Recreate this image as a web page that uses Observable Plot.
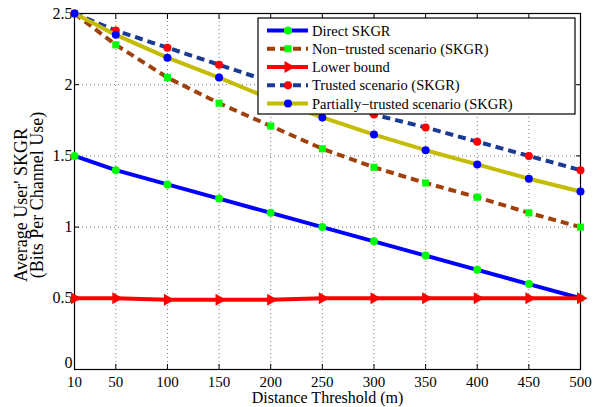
<!DOCTYPE html>
<html><head><meta charset="utf-8">
<script src="https://cdn.jsdelivr.net/npm/d3@7"></script>
<script src="https://cdn.jsdelivr.net/npm/@observablehq/plot@0.6"></script>
<style>body{margin:0;background:#fff}#chart{width:596px;height:407px}</style>
</head><body><div id="chart"></div>
<script>
// ---- data ----
const distances = [10, 50, 100, 150, 200, 250, 300, 350, 400, 450, 500];
const directSKGR = [1.5, 1.4, 1.3, 1.2, 1.1, 1.0, 0.9, 0.8, 0.7, 0.6, 0.5];
const nonTrustedSKGR = [2.5, 2.28, 2.05, 1.87, 1.71, 1.55, 1.42, 1.31, 1.21, 1.1, 1.0];
const lowerBound = [0.5, 0.5, 0.49, 0.49, 0.49, 0.5, 0.5, 0.5, 0.5, 0.5, 0.5];
const trustedSKGR = [2.5, 2.38, 2.26, 2.14, 2.02, 1.9, 1.79, 1.7, 1.6, 1.5, 1.4];
const partiallyTrustedSKGR = [2.5, 2.35, 2.19, 2.05, 1.9, 1.77, 1.65, 1.54, 1.44, 1.34, 1.25];
const xTicks = [10, 50, 100, 150, 200, 250, 300, 350, 400, 450, 500];
const yTicks = [0, 0.5, 1, 1.5, 2, 2.5];
const seriesNames = ["Direct SKGR", "Non\u2212trusted scenario (SKGR)", "Lower bound", "Trusted scenario (SKGR)", "Partially\u2212trusted scenario (SKGR)"];
const xLabel = "Distance Threshold (m)";
const yLabelLines = ["Average User' SKGR", "(Bits Per Channel Use)"];

// ---- styles ----
const FONT = "Liberation Serif";
const seriesValues = [directSKGR, nonTrustedSKGR, lowerBound, trustedSKGR, partiallyTrustedSKGR];
const seriesStyles = [
  {line: "#0000ff", dash: null, symbol: "circle", mfill: "#00ff00", r: 4, rotate: 0},
  {line: "#a0400a", dash: "8,5", symbol: "square", mfill: "#00ff00", r: 4, rotate: 0},
  {line: "#ff0000", dash: null, symbol: "triangle", mfill: "#ff0000", r: 4.5, rotate: 90},
  {line: "#1a3a94", dash: "8,5", symbol: "circle", mfill: "#ff0000", r: 4, rotate: 0},
  {line: "#c4bc00", dash: null, symbol: "circle", mfill: "#0000ff", r: 4, rotate: 0}
];

const marks = [
  Plot.gridX(xTicks.slice(1, -1), {stroke: "#777", strokeOpacity: 1, strokeDasharray: "1,3"}),
  Plot.gridY(yTicks.slice(1, -1), {stroke: "#777", strokeOpacity: 1, strokeDasharray: "1,3"}),
  Plot.axisX(xTicks, {anchor: "bottom", tickSize: -5, tickFormat: () => "", label: null}),
  Plot.axisX(xTicks, {anchor: "top", tickSize: -5, tickFormat: () => "", label: null}),
  Plot.axisY(yTicks, {anchor: "left", tickSize: -5, tickFormat: () => "", label: null}),
  Plot.axisY(yTicks, {anchor: "right", tickSize: -5, tickFormat: () => "", label: null}),
  Plot.axisX(xTicks, {anchor: "bottom", tickSize: 0, tickPadding: 7, fontSize: 15, fill: "#000", fontFamily: FONT, label: null, tickFormat: d => String(d)}),
  Plot.axisY(yTicks.slice(1), {anchor: "left", tickSize: 0, tickPadding: 2, fontSize: 16, fill: "#000", fontFamily: FONT, label: null, tickFormat: d => String(d)}),
  Plot.axisY(yTicks.slice(0, 1), {anchor: "left", tickSize: 0, tickPadding: 2, dy: -7, fontSize: 16, fill: "#000", fontFamily: FONT, label: null, tickFormat: d => String(d)}),
  Plot.frame({stroke: "#000", strokeWidth: 1.2}),
  Plot.text([xLabel], {text: d => d, frameAnchor: "bottom", dy: 28, textAnchor: "middle", lineAnchor: "middle", fontSize: 16, fontFamily: FONT, fill: "#000"}),
  Plot.text([yLabelLines[0]], {text: d => d, frameAnchor: "left", rotate: -90, dx: -53, dy: 13.5, textAnchor: "middle", lineAnchor: "middle", fontSize: 18, fontFamily: FONT, fill: "#000"}),
  Plot.text([yLabelLines[1]], {text: d => d, frameAnchor: "left", rotate: -90, dx: -37, dy: 3.5, textAnchor: "middle", lineAnchor: "middle", fontSize: 18, fontFamily: FONT, fill: "#000"})
];

seriesValues.forEach((vals, k) => {
  const s = seriesStyles[k];
  const rows = distances.map((d, i) => ({x: d, y: vals[i]}));
  marks.push(Plot.line(rows, {x: "x", y: "y", stroke: s.line, strokeWidth: 4, strokeDasharray: s.dash, strokeLinecap: "butt", strokeLinejoin: "round"}));
  marks.push(Plot.dot(rows, {x: "x", y: "y", symbol: s.symbol, fill: s.mfill, stroke: "none", r: s.r, rotate: s.rotate}));
});

const svgNode = Plot.plot({
  width: 596, height: 407,
  marginLeft: 74, marginRight: 16, marginTop: 13, marginBottom: 38,
  style: {background: "#fff", color: "#000"},
  x: {type: "linear", domain: [10, 500]},
  y: {type: "linear", domain: [0, 2.5]},
  marks
});
svgNode.setAttribute("font-family", FONT);
document.getElementById("chart").appendChild(svgNode);

// ---- legend ----
const svg = d3.select(svgNode);
const lg = svg.append("g").attr("font-family", FONT).attr("text-anchor", "start");
lg.append("rect").attr("x", 258).attr("y", 18).attr("width", 317).attr("height", 96)
  .attr("fill", "#fff").attr("stroke", "#000").attr("stroke-width", 1.2);
const symMap = {circle: d3.symbolCircle, square: d3.symbolSquare, triangle: d3.symbolTriangle};
seriesNames.forEach((name, i) => {
  const s = seriesStyles[i];
  const y = 30.5 + i * 18.25;
  lg.append("line").attr("x1", 267).attr("x2", 308).attr("y1", y).attr("y2", y)
    .attr("stroke", s.line).attr("stroke-width", 4).attr("stroke-dasharray", s.dash);
  lg.append("path").attr("d", d3.symbol(symMap[s.symbol], Math.PI * s.r * s.r)())
    .attr("transform", `translate(288,${y}) rotate(${s.rotate})`).attr("fill", s.mfill);
  lg.append("text").attr("x", 312).attr("y", y).attr("dy", "0.35em").attr("text-anchor", "start")
    .attr("font-size", 14.5).attr("fill", "#000").text(name);
});
svg.selectAll("text").attr("font-family", FONT);
</script>
</body></html>
